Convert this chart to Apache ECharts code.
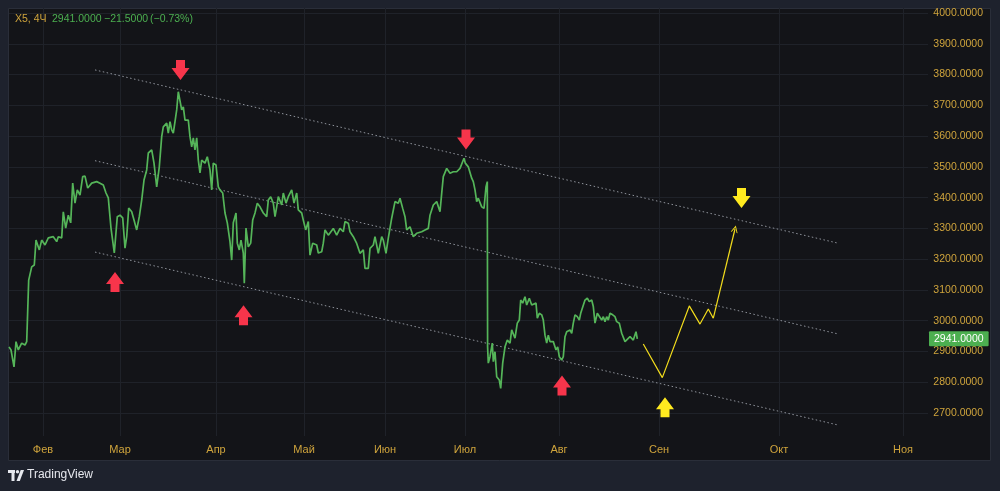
<!DOCTYPE html>
<html>
<head>
<meta charset="utf-8">
<script src="https://cdn.jsdelivr.net/npm/echarts@6/dist/echarts.min.js"></script>
<style>
  html, body { margin: 0; padding: 0; background: #1e222d; }
  #main { width: 1000px; height: 491px; }
</style>
</head>
<body>
<div id="main"></div>
<script>
// ось времени: индекс бара (4ч), месяцы стоят на своих барах
var monthLabels = ['Фев', 'Мар', 'Апр', 'Май', 'Июн', 'Июл', 'Авг', 'Сен', 'Окт', 'Ноя'];
var monthTicks = [34, 111, 207, 295, 376, 456, 550, 650, 770, 894];
var priceTicks = [2700, 2800, 2900, 3000, 3100, 3200, 3300, 3400, 3500, 3600, 3700, 3800, 3900, 4000];

var lastPrice = 2941;

// цена закрытия X5, [бар, цена]
var price = [
  [0,2915],[2,2905],[5,2850],[7,2932],[9.3,2905],[12.7,2927],[16,2921],[17.7,2932],[19.7,3132],[22.7,3175],
  [25.3,3181],[27,3262],[30.3,3230],[32.7,3262],[36,3246],[39.3,3269],[44.3,3273],[47.7,3257],[49.3,3273],[52.7,3269],
  [54.3,3354],[56.7,3301],[59.3,3343],[61.7,3318],[63.7,3447],[66,3382],[68.3,3425],[71,3408],[73.7,3468],[76,3470],
  [78.7,3431],[82.7,3447],[87.7,3452],[91,3447],[94.3,3441],[97,3415],[99.3,3399],[102,3301],[103.7,3295],[105.3,3220],
  [107,3224],[108.3,3338],[111,3343],[113.7,3334],[116,3236],[117.7,3273],[119.7,3366],[122.7,3354],[125,3327],[127.7,3295],
  [130.3,3338],[132.7,3392],[135,3457],[137.7,3490],[139.3,3545],[142.7,3555],[145,3512],[147.7,3435],[150.3,3500],[152.7,3598],
  [154.3,3630],[157.7,3642],[159.3,3610],[161,3647],[162.7,3620],[164.3,3610],[166,3647],[167.7,3685],[169.3,3744],[171,3740],
  [172.7,3685],[174.3,3695],[176,3652],[179.3,3652],[181,3598],[182.7,3565],[184.3,3594],[186,3555],[187.7,3594],[189.3,3522],
  [191,3480],[192.7,3522],[196,3512],[198.3,3533],[201,3490],[202.7,3425],[204.3,3512],[207,3506],[209.3,3435],[211,3425],
  [213.7,3415],[216,3350],[218.3,3318],[221,3257],[222.7,3197],[224.3,3318],[227,3350],[228.3,3252],[230.3,3230],[232,3262],
  [234.3,3220],[235.3,3122],[237,3301],[239.3,3240],[241.7,3252],[243.7,3327],[246,3350],[248.3,3382],[251,3370],[254.3,3350],
  [257.7,3338],[259.3,3392],[261.7,3403],[264.3,3382],[266,3338],[267.7,3370],[269.3,3403],[272.7,3376],[274.3,3415],[277,3382],
  [279.3,3403],[282.7,3425],[285,3382],[287.7,3415],[289.3,3360],[292.7,3350],[294.3,3327],[296.7,3295],[299.3,3322],[301,3213],
  [303.7,3252],[307.7,3246],[309.3,3220],[312.7,3224],[314.3,3252],[316,3295],[319.3,3278],[324.3,3300],[327.7,3278],[331,3300],
  [334.3,3289],[336,3322],[339.3,3317],[341,3289],[344.3,3273],[347.7,3251],[351,3219],[354.3,3230],[356,3170],[359.3,3170],
  [361,3235],[364.3,3246],[366,3273],[369.3,3219],[372.7,3273],[374.3,3262],[377,3219],[379.3,3268],[382.7,3333],[386,3387],
  [389.3,3382],[391,3398],[393.7,3365],[396,3338],[397.7,3295],[401,3305],[404.3,3273],[407.7,3284],[412.7,3289],[416,3295],
  [419.3,3300],[421,3343],[424.3,3376],[427.7,3387],[431,3354],[432.7,3414],[434.3,3468],[437.7,3495],[441,3479],[444.3,3484],
  [447.7,3484],[451,3495],[455,3528],[456.3,3512],[459.3,3500],[462.7,3463],[464.3,3452],[466,3425],[467.7,3387],[469.3,3398],
  [472.7,3370],[475,3365],[477,3435],[478.3,3452],[478.6,2915],[479.3,2862],[481,2883],[483.3,2927],[484.3,2867],[486,2899],
  [487.7,2818],[490.3,2807],[491.7,2780],[493.7,2862],[496,2915],[498.3,2937],[501,2927],[502.7,2970],[504.3,2964],[506,2943],
  [508.3,2992],[510.3,3002],[511.7,3067],[513.7,3057],[516,3078],[517.7,3051],[520.3,3073],[522.7,3051],[524.3,3046],[527,3057],
  [528.3,3008],[530.3,3024],[532.7,3019],[534.3,3002],[536,2953],[537.7,2927],[539.3,2953],[541,2932],[544.3,2932],[547,2905],
  [548.7,2915],[550.3,2883],[552.7,2872],[554.3,2883],[556,2948],[557.7,2964],[561,2970],[562.7,2959],[564.3,2992],[566,3019],
  [568.3,3013],[570.3,3002],[571.7,3024],[573.7,3024],[576,3067],[578.3,3073],[580.3,3062],[582.7,3067],[584.3,3046],[586,2992],
  [588.3,3024],[590.3,3019],[592.7,3002],[594.3,3013],[596,2997],[597.7,3013],[599.3,3002],[601,3024],[603.7,3019],[606,3013],
  [607.7,2997],[610.3,2992],[612.7,2959],[614.3,2953],[616,2932],[617.7,2937],[621,2948],[624.3,2937],[627,2964],[628.3,2941]
];

// канал (пунктир)
var channelTop = [[86, 3815], [829, 3252]];
var channelMid = [[86, 3520], [829, 2957]];
var channelLow = [[86, 3223], [829, 2661]];

// прогноз (желтая линия)
var forecast = [[634.3, 2924], [653.3, 2815], [680.3, 3048], [691, 2989], [699.3, 3038], [704.3, 3008]];
var forecastEnd = [[704.3, 3008], [726, 3298]];

// стрелки
var redDown = [[171.5, 3815], [457, 3589]];
var redUp = [[106, 3126], [234.5, 3018], [553, 2789]];
var yellowDown = [[732.5, 3399]];
var yellowUp = [[656, 2719]];

var GOLD = '#cfa43c';
var GREEN = '#4caf50';
var FONT = 'Liberation Sans';

var arrowDownPath = 'path://M4.5,0 L13.5,0 L13.5,8 L18,8 L9,20 L0,8 L4.5,8 Z';
var arrowUpPath = 'path://M9,0 L18,12 L13.5,12 L13.5,20 L4.5,20 L4.5,12 L0,12 Z';
var chevronPath = 'path://M0,10 L5,0 L10,10 L8.6,10 L5,2.8 L1.4,10 Z';

var chart = echarts.init(document.getElementById('main'));

function dotted(data) {
  return {
    type: 'line', data: data, showSymbol: false, silent: true, z: 1,
    lineStyle: { color: '#8f939b', width: 1, type: [1.5, 2.5] }
  };
}

function arrows(data, path, color) {
  return {
    type: 'scatter', data: data, symbol: path, symbolSize: [18, 20],
    itemStyle: { color: color, opacity: 1 }, z: 5, silent: true
  };
}

function headText(x, text, color) {
  return {
    type: 'text', left: x, top: 14, z: 100,
    style: { text: text, fill: color, font: '10.5px "Liberation Sans"' }
  };
}

var option = {
  backgroundColor: '#1e222d',
  animation: false,
  grid: { left: 9, right: 72, top: 8, bottom: 55 },
  xAxis: {
    type: 'value', min: 0, max: 919,
    axisLine: { show: false },
    axisTick: { show: false, customValues: monthTicks },
    splitLine: { show: true, lineStyle: { color: '#1f2229', width: 1 } },
    axisLabel: {
      customValues: monthTicks, color: GOLD, fontFamily: FONT, fontSize: 11, margin: 8,
      formatter: function (v) { return monthLabels[monthTicks.indexOf(v)]; }
    }
  },
  yAxis: {
    type: 'value', position: 'right', min: 2625.25, max: 4016.25,
    axisLine: { show: false },
    axisTick: { show: false, customValues: priceTicks },
    splitLine: { show: true, lineStyle: { color: '#1f2229', width: 1 } },
    axisLabel: {
      customValues: priceTicks, color: GOLD, fontFamily: FONT, fontSize: 10.5,
      align: 'right', margin: 55,
      formatter: function (v) { return v.toFixed(4); }
    }
  },
  series: [
    dotted(channelTop),
    dotted(channelMid),
    dotted(channelLow),
    {
      type: 'line', data: price, showSymbol: false, z: 3,
      lineStyle: { color: '#55b559', width: 1.7 },
      markLine: {
        silent: true, symbol: 'none',
        lineStyle: { color: 'rgba(0,0,0,0)', width: 0 },
        data: [{ yAxis: lastPrice }],
        label: {
          show: true, position: 'end', distance: 1,
          formatter: lastPrice.toFixed(4),
          color: '#ffffff', fontFamily: FONT, fontSize: 10.5,
          backgroundColor: GREEN, padding: [2, 5, 2, 5], borderRadius: 1
        }
      }
    },
    {
      type: 'line', data: forecast, showSymbol: false, z: 3,
      lineStyle: { color: '#f2dc1c', width: 1.2 }
    },
    {
      type: 'lines', coordinateSystem: 'cartesian2d', z: 3,
      data: [{ coords: forecastEnd }],
      symbol: ['none', chevronPath], symbolSize: [8, 7],
      lineStyle: { color: '#f2dc1c', width: 1.2, opacity: 1 }
    },
    arrows(redDown, arrowDownPath, '#f7354b'),
    arrows(redUp, arrowUpPath, '#f7354b'),
    arrows(yellowDown, arrowDownPath, '#ffea1f'),
    arrows(yellowUp, arrowUpPath, '#ffea1f')
  ],
  graphic: [
    {
      type: 'rect', z: -100, silent: true,
      shape: { x: 8.5, y: 8.5, width: 982, height: 452 },
      style: { fill: '#131418', stroke: '#2a2e39', lineWidth: 1 }
    },
    headText(15, 'X5, 4Ч', GOLD),
    headText(52, '2941.0000', GREEN),
    headText(104, '−21.5000', GREEN),
    headText(150, '(−0.73%)', GREEN),
    { type: 'rect', shape: { x: 8, y: 470, width: 7, height: 3 }, style: { fill: '#e6e8ee' } },
    { type: 'rect', shape: { x: 11.5, y: 470, width: 3, height: 11 }, style: { fill: '#e6e8ee' } },
    { type: 'circle', shape: { cx: 17.5, cy: 471.8, r: 1.7 }, style: { fill: '#e6e8ee' } },
    { type: 'polygon', shape: { points: [[16.5, 481], [19.8, 481], [24, 470], [20.7, 470]] }, style: { fill: '#e6e8ee' } },
    {
      type: 'text', left: 27, top: 469,
      style: { text: 'TradingView', fill: '#e6e8ee', font: '12px "Liberation Sans"' }
    }
  ]
};

chart.setOption(option);
</script>
</body>
</html>
